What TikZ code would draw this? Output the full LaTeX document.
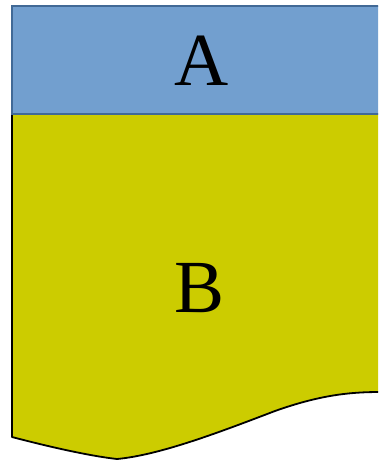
\documentclass[tikz,border=0pt]{standalone}
\usepackage{fontspec}
\setmainfont{Liberation Serif}
\definecolor{boxblue}{RGB}{114,159,207}
\definecolor{boxblueline}{RGB}{65,105,150}
\definecolor{boxyellow}{RGB}{204,204,0}
\tikzset{
  letter/.style={font=\fontsize{75}{80}\selectfont, anchor=base, inner sep=0pt},
  blueblock/.style={fill=boxblue, draw=boxblueline, line width=1.2pt},
  yellowfill/.style={fill=boxyellow},
  outline/.style={draw=black, line width=1.8pt, line join=round}
}
\begin{document}
\begin{tikzpicture}[x=1pt,y=-1pt]
\useasboundingbox (0,0) rectangle (378,460);
\clip (0,0) rectangle (378,460);
% yellow body
\fill[yellowfill] (12,114) -- (12,437)
  .. controls (50,447) and (90,456) .. (117,459)
  .. controls (160,455) and (220,432) .. (275,411)
  .. controls (320,395) and (350,392) .. (380,392)
  -- (380,114) -- cycle;
\draw[outline] (12,114) -- (12,437)
  .. controls (50,447) and (90,456) .. (117,459)
  .. controls (160,455) and (220,432) .. (275,411)
  .. controls (320,395) and (350,392) .. (380,392);
% blue header
\draw[blueblock] (12,6) rectangle (382,114);
\node[letter] (A) at (201.5,85) {A};
\node[letter] (B) at (200,312) {B};
\end{tikzpicture}
\end{document}
